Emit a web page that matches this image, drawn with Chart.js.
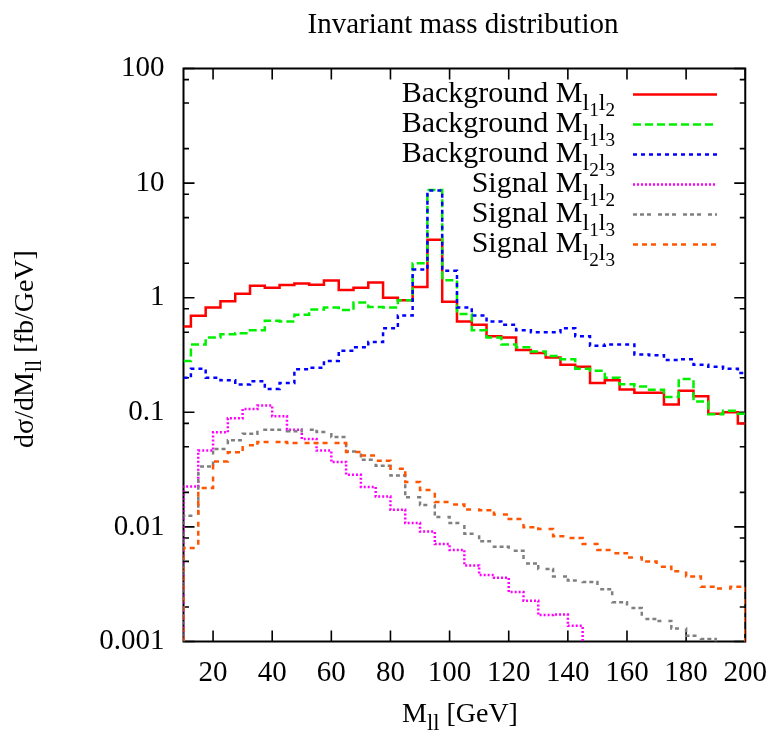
<!DOCTYPE html>
<html><head><meta charset="utf-8">
<script src="https://cdn.jsdelivr.net/npm/chart.js@4/dist/chart.umd.min.js"></script>
<style>html,body{margin:0;padding:0;background:#fff;}canvas{display:block;}</style>
</head><body>
<canvas id="c" width="781" height="731"></canvas>
<script>
// ---------------- data ----------------
const bgCenters = [10,15,20,25,30,35,40,45,50,55,60,65,70,75,80,85,90,95,100,105,110,115,120,125,130,135,140,145,150,155,160,165,170,175,180,185,190,195,200];
const bgM12 = [0.56,0.695,0.82,0.93,1.08,1.27,1.22,1.29,1.33,1.30,1.41,1.17,1.22,1.36,1.00,0.95,1.24,3.2,0.92,0.62,0.58,0.46,0.45,0.35,0.33,0.30,0.26,0.25,0.18,0.19,0.158,0.148,0.148,0.117,0.154,0.138,0.097,0.10,0.08];
const bgM13 = [0.28,0.39,0.45,0.48,0.49,0.52,0.63,0.62,0.71,0.79,0.82,0.78,0.91,0.83,0.82,0.95,2.0,8.7,1.42,0.72,0.52,0.45,0.39,0.37,0.34,0.31,0.29,0.24,0.23,0.20,0.176,0.168,0.157,0.136,0.195,0.124,0.096,0.103,0.097];
const bgM23 = [0.20,0.24,0.20,0.19,0.175,0.187,0.16,0.18,0.237,0.245,0.28,0.345,0.37,0.41,0.54,0.70,1.76,8.6,1.72,0.82,0.70,0.62,0.58,0.52,0.50,0.50,0.54,0.46,0.38,0.39,0.39,0.32,0.315,0.286,0.29,0.26,0.25,0.24,0.22];

const sigEdges = [10,15,20,25,30,35,40,45,50,55,60,65,70,75,80,85,90,95,100,105,110,115,120,125,130,135,140,145,150,155,160,165,170,175,180,185,190,195,200];
const sigM12 = [0.0225,0.0463,0.0669,0.0886,0.107,0.1145,0.0923,0.0706,0.0585,0.0463,0.0368,0.0285,0.0223,0.0184,0.0141,0.0108,0.0091,0.0071,0.0063,0.0046,0.0038,0.0036,0.0027,0.00227,0.0017,0.00172,0.00137,0.0009,0.0008,0.0007,0.0006,0.0005,0.00045,0.0004,0.00035,0.0003,0.00027,0.00024];
const sigM13 = [0.0125,0.0337,0.0479,0.0569,0.0651,0.0706,0.0706,0.0682,0.0706,0.0672,0.061,0.0456,0.0386,0.0342,0.0281,0.0181,0.0155,0.0122,0.0108,0.0087,0.0075,0.0067,0.0062,0.0048,0.0043,0.0037,0.0034,0.0033,0.00286,0.0022,0.00196,0.00157,0.00151,0.0013,0.00112,0.00105,0.0009,0.0008];
const sigM23 = [0.00653,0.0218,0.0373,0.0447,0.0515,0.0551,0.0551,0.054,0.054,0.054,0.054,0.045,0.042,0.0378,0.0322,0.0246,0.021,0.0165,0.0157,0.0142,0.0140,0.0128,0.0117,0.00995,0.0096,0.0083,0.0080,0.0071,0.0063,0.0059,0.0054,0.0050,0.0045,0.0041,0.0037,0.0030,0.0029,0.0030];
const ZERO_LEVEL = 1e-7; // histogram end caps drop to zero (off the log axis)

const yTickValues = [0.001,0.01,0.1,1,10,100];
const yTickLabels = ['0.001','0.01','0.1','1','10','100'];
const yMinorFactors = [2,5,8];
const xTickValues = [20,40,60,80,100,120,140,160,180,200];

const seriesKinds = ['Background','Background','Background','Signal','Signal','Signal'];
const seriesPairs = [[1,2],[1,3],[2,3],[1,2],[1,3],[2,3]];
const titleText = 'Invariant mass distribution';

// ---------------- styles ----------------
const FONT = "'Liberation Serif', 'DejaVu Serif', serif";
const colors = ['#ff0000','#00f000','#0000ff','#ff00ff','#808080','#ff5500'];
const dashes = [[],[8,4],[4,4],[2,2],[4,3,4,3,4,7],[5,4,5,4,5,7]];

function bgData(vals){ return bgCenters.map((x,i)=>({x:x,y:vals[i]})); }
function sigData(vals){
  const pts=[{x:sigEdges[0],y:ZERO_LEVEL}];
  vals.forEach((v,i)=>pts.push({x:sigEdges[i],y:v}));
  const last=sigEdges[sigEdges.length-1];
  pts.push({x:last,y:vals[vals.length-1]});
  pts.push({x:last,y:ZERO_LEVEL});
  return pts;
}
const allData=[bgData(bgM12),bgData(bgM13),bgData(bgM23),sigData(sigM12),sigData(sigM13),sigData(sigM23)];
const datasets=allData.map((d,i)=>({
  label: seriesKinds[i]+' M_l'+seriesPairs[i][0]+'l'+seriesPairs[i][1],
  data:d,
  borderColor:colors[i],
  backgroundColor:colors[i],
  borderWidth:2.5,
  borderDash:dashes[i],
  pointRadius:0,
  fill:false,
  tension:0,
  stepped: i<3 ? 'middle' : 'before',
  order: 10-i
}));

function drawRich(ctx, parts, x, y, base, align){
  const sizes=[base, base*0.8, base*0.64];
  const shifts=[0, base*0.27, base*0.27+base*0.22];
  let w=0;
  parts.forEach(p=>{ctx.font=sizes[p.l]+'px '+FONT; w+=ctx.measureText(p.t).width;});
  let cx = align==='right' ? x-w : (align==='center' ? x-w/2 : x);
  ctx.textAlign='left'; ctx.textBaseline='alphabetic';
  parts.forEach(p=>{ctx.font=sizes[p.l]+'px '+FONT; ctx.fillText(p.t,cx,y+shifts[p.l]); cx+=ctx.measureText(p.t).width;});
}

const framePlugin={
  id:'frame',
  beforeDatasetsDraw(chart){
    const ctx=chart.ctx, a=chart.chartArea, xs=chart.scales.x, ys=chart.scales.y;
    ctx.save();
    ctx.strokeStyle='#000'; ctx.lineWidth=2; ctx.setLineDash([]);
    ctx.strokeRect(a.left,a.top,a.right-a.left,a.bottom-a.top);
    ctx.lineWidth=1.6;
    ctx.beginPath();
    const maj=11, mnr=5.5;
    yTickValues.forEach((v,k)=>{
      const py=ys.getPixelForValue(v);
      ctx.moveTo(a.left,py); ctx.lineTo(a.left+maj,py);
      ctx.moveTo(a.right,py); ctx.lineTo(a.right-maj,py);
      if(k<yTickValues.length-1){
        yMinorFactors.forEach(f=>{
          const pm=ys.getPixelForValue(v*f);
          ctx.moveTo(a.left,pm); ctx.lineTo(a.left+mnr,pm);
          ctx.moveTo(a.right,pm); ctx.lineTo(a.right-mnr,pm);
        });
      }
    });
    xTickValues.forEach(v=>{
      const px=xs.getPixelForValue(v);
      ctx.moveTo(px,a.bottom); ctx.lineTo(px,a.bottom-maj);
      ctx.moveTo(px,a.top); ctx.lineTo(px,a.top+maj);
    });
    ctx.stroke();
    ctx.restore();
  },
  afterDraw(chart){
    const ctx=chart.ctx, a=chart.chartArea;
    ctx.save();
    ctx.fillStyle='#000';
    // title
    ctx.font='29px '+FONT; ctx.textAlign='center'; ctx.textBaseline='alphabetic';
    ctx.fillText(titleText, 463, 33);
    // x label
    drawRich(ctx,[{t:'M',l:0},{t:'ll',l:1},{t:' [GeV]',l:0}], 460, 722, 28, 'center');
    // y label
    ctx.save();
    ctx.translate(33,(a.top+a.bottom)/2-6);
    ctx.rotate(-Math.PI/2);
    drawRich(ctx,[{t:'d\u03c3/dM',l:0},{t:'ll',l:1},{t:' [fb/GeV]',l:0}], 0, 0, 28, 'center');
    ctx.restore();
    // legend
    const rowY0=94.5, rowStep=30, textRight=615, lx0=633, lx1=717;
    chart.data.datasets.forEach((ds,i)=>{
      const y=rowY0+i*rowStep;
      ctx.fillStyle='#000';
      const p=seriesPairs[i];
      drawRich(ctx,[{t:seriesKinds[i]+' M',l:0},{t:'l',l:1},{t:String(p[0]),l:2},{t:'l',l:1},{t:String(p[1]),l:2}], textRight, y+7, 30, 'right');
      ctx.strokeStyle=ds.borderColor; ctx.lineWidth=ds.borderWidth; ctx.setLineDash(ds.borderDash);
      ctx.beginPath(); ctx.moveTo(lx0,y); ctx.lineTo(lx1,y); ctx.stroke();
    });
    ctx.restore();
  }
};

new Chart(document.getElementById('c'),{
  type:'line',
  data:{datasets:datasets},
  options:{
    responsive:false, animation:false, devicePixelRatio:1,
    layout:{padding:{left:0,right:28.3,top:68.5,bottom:0}},
    plugins:{legend:{display:false},title:{display:false},tooltip:{enabled:false}},
    scales:{
      x:{type:'linear',min:10,max:200,
        grid:{display:false,drawTicks:false},border:{display:false},
        afterBuildTicks:(s)=>{s.ticks=xTickValues.map(v=>({value:v}));},
        afterFit:(s)=>{s.height=89.5;},
        ticks:{font:{family:FONT,size:29},color:'#000',padding:14,maxRotation:0,autoSkip:false,callback:(v)=>String(v)}
      },
      y:{type:'logarithmic',min:0.001,max:100,
        grid:{display:false,drawTicks:false},border:{display:false},
        afterBuildTicks:(s)=>{s.ticks=yTickValues.map(v=>({value:v}));},
        afterFit:(s)=>{s.width=183.5;},
        ticks:{font:{family:FONT,size:29},color:'#000',padding:19,autoSkip:false,callback:(v,i)=>yTickLabels[i]}
      }
    }
  },
  plugins:[framePlugin]
});
</script>
</body></html>
